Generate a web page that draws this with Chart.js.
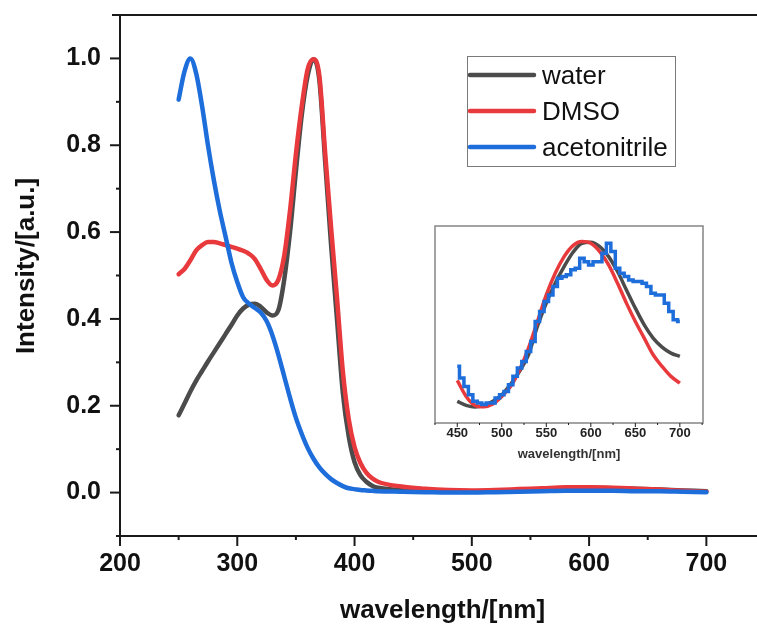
<!DOCTYPE html>
<html>
<head>
<meta charset="utf-8">
<script src="https://cdn.jsdelivr.net/npm/chart.js@4.4.0/dist/chart.umd.min.js"></script>
<style>
  html, body { margin: 0; padding: 0; background: #fff; overflow: hidden; }
  #wrap { position: relative; width: 757px; height: 626px; overflow: hidden; }
  #main { position: absolute; left: 0; top: 0; }
  #inset { position: absolute; left: 400px; top: 215px; }
</style>
</head>
<body>
<div id="wrap">
  <canvas id="main" width="780" height="626"></canvas>
  <canvas id="inset" width="340" height="255"></canvas>
</div>
<script>
// normalised emission spectra in three solvents
var wavelength = [250,255,260,265,270,275,280,285,290,295,300,305,310,315,320,325,330,335,340,345,
                  350,355,360,365,370,375,380,385,390,395,400,405,410,415,420,
                  440,460,480,500,520,540,560,580,600,620,640,660,680,700];
var water = [0.178,0.205,0.233,0.258,0.28,0.302,0.323,0.344,0.365,0.386,0.408,0.424,0.433,0.435,0.428,0.415,0.408,0.42,0.49,0.60,
             0.74,0.87,0.96,0.998,0.95,0.76,0.57,0.40,0.23,0.13,0.07,0.04,0.025,0.016,0.011,
             0.006,0.004,0.003,0.002,0.003,0.005,0.008,0.010,0.011,0.010,0.009,0.007,0.005,0.003];
var dmso = [0.503,0.515,0.535,0.558,0.57,0.577,0.577,0.574,0.57,0.566,0.562,0.557,0.55,0.538,0.515,0.49,0.477,0.49,0.545,0.65,
            0.78,0.89,0.975,0.998,0.96,0.78,0.61,0.45,0.28,0.17,0.105,0.068,0.046,0.033,0.025,
            0.014,0.009,0.006,0.005,0.006,0.008,0.010,0.012,0.012,0.011,0.009,0.007,0.004,0.002];
var acetonitrile = [0.905,0.97,1.0,0.965,0.89,0.80,0.72,0.65,0.59,0.53,0.485,0.45,0.435,0.425,0.415,0.395,0.362,0.318,0.268,0.218,
                    0.172,0.135,0.103,0.078,0.058,0.043,0.031,0.022,0.015,0.01,0.008,0.006,0.005,0.004,0.003,
                    0.002,0.001,0.0,0.0,0.001,0.002,0.003,0.004,0.004,0.004,0.003,0.003,0.002,0.001];

// long-wavelength band, intensity x 10^-3
var insetWavelength = [450,460,470,480,490,500,510,520,530,540,550,560,570,580,590,600,610,620,630,640,650,660,670,680,690,700];
var insetWater = [0.53,0.24,0.12,0.24,0.53,1.0,1.77,2.68,3.87,5.9,7.58,9.01,10.2,11.23,11.88,11.95,11.64,10.92,9.85,8.53,7.22,6.02,5.07,4.42,3.99,3.75];
var insetDmso = [2.03,0.88,0.24,0.14,0.33,0.88,1.6,2.8,4.35,6.26,8.17,9.73,10.92,11.71,12.0,11.88,11.28,10.32,9.01,7.58,6.26,5.07,3.87,3.04,2.32,1.84];
var insetAcnWavelength = [450,455,460,465,470,475,480,485,490,495,500,505,510,515,520,525,530,535,540,545,
                          550,555,560,565,570,575,580,585,590,595,600,605,610,615,620,625,630,635,640,645,
                          650,655,660,665,670,675,680,685,690,695,700];
var insetAcetonitrile = [3.04,2.2,1.6,1.0,0.53,0.41,0.29,0.41,0.41,0.76,1.0,1.24,1.72,2.32,2.92,3.39,4.11,4.83,6.26,6.98,
                         7.7,8.17,8.77,9.37,9.49,9.61,9.97,10.09,10.8,10.56,10.32,10.56,10.56,11.16,11.88,11.28,10.09,9.73,9.49,9.25,
                         9.13,9.13,9.01,8.77,8.29,8.17,8.17,7.58,6.98,6.38,6.26];

var xTickLabels = [200, 300, 400, 500, 600, 700];
var yTickLabels = ['0.0', '0.2', '0.4', '0.6', '0.8', '1.0'];
var insetTickLabels = [450, 500, 550, 600, 650, 700];

var colors = { water: '#4b4b4b', dmso: '#e8393c', acetonitrile: '#1d6ddb' };
var FONT = '"Liberation Sans", Arial, sans-serif';

function pairs(xs, ys) {
  return xs.map(function (x, i) { return { x: x, y: ys[i] }; });
}

// tick marks drawn outward, long for labelled values, short in between
function drawTicks(ctx, chart, major, minor, width) {
  var a = chart.chartArea;
  ctx.save();
  ctx.strokeStyle = '#1a1a1a';
  ctx.lineWidth = width;
  chart.scales.x.ticks.forEach(function (t) {
    var px = chart.scales.x.getPixelForValue(t.value);
    var len = t.label !== '' ? major : minor;
    ctx.beginPath();
    ctx.moveTo(px, a.bottom);
    ctx.lineTo(px, a.bottom + len);
    ctx.stroke();
  });
  if (chart.scales.y.options.display) {
    chart.scales.y.ticks.forEach(function (t) {
      var py = chart.scales.y.getPixelForValue(t.value);
      var len = t.label !== '' ? major : minor;
      ctx.beginPath();
      ctx.moveTo(a.left - len, py);
      ctx.lineTo(a.left, py);
      ctx.stroke();
    });
  }
  ctx.restore();
}

var mainDecor = {
  id: 'mainDecor',
  afterDraw: function (chart) {
    var ctx = chart.ctx, a = chart.chartArea;
    drawTicks(ctx, chart, 10, 4, 2);

    // top frame line
    ctx.save();
    ctx.strokeStyle = '#1a1a1a';
    ctx.lineWidth = 2;
    ctx.beginPath();
    ctx.moveTo(a.left - 8, a.top);
    ctx.lineTo(chart.width, a.top);
    ctx.stroke();

    // y axis title
    ctx.fillStyle = '#111';
    ctx.font = 'bold 26px ' + FONT;
    ctx.textAlign = 'center';
    ctx.textBaseline = 'middle';
    ctx.translate(27, 266);
    ctx.rotate(-Math.PI / 2);
    ctx.fillText('Intensity/[a.u.]', 0, 0);
    ctx.restore();

    // legend box
    ctx.save();
    ctx.strokeStyle = '#7a7a7a';
    ctx.lineWidth = 1;
    ctx.strokeRect(467.5, 56.5, 208, 110);
    var rows = [75, 111, 147];
    ctx.font = '26px ' + FONT;
    ctx.textBaseline = 'middle';
    ctx.textAlign = 'left';
    chart.data.datasets.forEach(function (ds, i) {
      ctx.strokeStyle = ds.borderColor;
      ctx.lineWidth = 4.5;
      ctx.lineCap = 'round';
      ctx.beginPath();
      ctx.moveTo(470, rows[i]);
      ctx.lineTo(534, rows[i]);
      ctx.stroke();
      ctx.fillStyle = '#111';
      ctx.fillText(ds.label, 542, rows[i] + 2);
    });
    ctx.restore();
  }
};

new Chart(document.getElementById('main'), {
  type: 'line',
  data: {
    datasets: [
      { label: 'water', data: pairs(wavelength, water), borderColor: colors.water, order: 3 },
      { label: 'DMSO', data: pairs(wavelength, dmso), borderColor: colors.dmso, order: 2 },
      { label: 'acetonitrile', data: pairs(wavelength, acetonitrile), borderColor: colors.acetonitrile, order: 1 }
    ]
  },
  options: {
    responsive: false,
    animation: false,
    elements: {
      line: { borderWidth: 4.5, cubicInterpolationMode: 'monotone', borderCapStyle: 'round' },
      point: { radius: 0 }
    },
    layout: { padding: { top: 15, right: 15, left: 0, bottom: 0 } },
    plugins: { legend: { display: false }, tooltip: { enabled: false } },
    scales: {
      x: {
        type: 'linear', min: 200, max: 750,
        afterFit: function (s) { s.height = 90; s.paddingLeft = 0; s.paddingRight = 0; },
        border: { display: true, color: '#1a1a1a', width: 2 },
        grid: { display: false, drawTicks: false },
        ticks: {
          stepSize: 50, autoSkip: false, maxRotation: 0, padding: 13, color: '#111',
          font: { family: FONT, size: 25, weight: 'bold' },
          callback: function (v) { return xTickLabels.indexOf(v) >= 0 ? String(v) : ''; }
        },
        title: {
          display: true, text: 'wavelength/[nm]', color: '#111',
          font: { family: FONT, size: 26, weight: 'bold' }, padding: { top: 0, bottom: 0 }
        }
      },
      y: {
        type: 'linear', min: -0.1, max: 1.1,
        afterFit: function (s) { s.width = 120; s.paddingTop = 0; s.paddingBottom = 0; },
        border: { display: true, color: '#1a1a1a', width: 2 },
        grid: { display: false, drawTicks: false },
        ticks: {
          stepSize: 0.1, autoSkip: false, padding: 19, color: '#111',
          font: { family: FONT, size: 25, weight: 'bold' },
          callback: function (v) { var s = v.toFixed(1); return yTickLabels.indexOf(s) >= 0 ? s : ''; }
        }
      }
    }
  },
  plugins: [mainDecor]
});

var insetDecor = {
  id: 'insetDecor',
  afterDraw: function (chart) {
    var ctx = chart.ctx, a = chart.chartArea;
    ctx.save();
    ctx.strokeStyle = '#858585';
    ctx.lineWidth = 1.5;
    ctx.strokeRect(a.left, a.top, a.right - a.left, a.bottom - a.top);
    ctx.restore();
    drawTicks(ctx, chart, 4, 2, 1);
  }
};

new Chart(document.getElementById('inset'), {
  type: 'line',
  data: {
    datasets: [
      { label: 'water', data: pairs(insetWavelength, insetWater), borderColor: colors.water, order: 3 },
      { label: 'DMSO', data: pairs(insetWavelength, insetDmso), borderColor: colors.dmso, order: 2 },
      { label: 'acetonitrile', data: pairs(insetAcnWavelength, insetAcetonitrile), borderColor: colors.acetonitrile,
        stepped: 'middle', cubicInterpolationMode: 'default', order: 1 }
    ]
  },
  options: {
    responsive: false,
    animation: false,
    elements: {
      line: { borderWidth: 3.5, cubicInterpolationMode: 'monotone' },
      point: { radius: 0 }
    },
    layout: { padding: { top: 11, right: 37, left: 35, bottom: 0 } },
    plugins: { legend: { display: false }, tooltip: { enabled: false } },
    scales: {
      x: {
        type: 'linear', min: 425, max: 726,
        afterFit: function (s) { s.height = 47; s.paddingLeft = 0; s.paddingRight = 0; },
        border: { display: false },
        grid: { display: false, drawTicks: false },
        ticks: {
          stepSize: 25, includeBounds: false, autoSkip: false, maxRotation: 0, padding: 3, color: '#222',
          font: { family: FONT, size: 13, weight: 'bold' },
          callback: function (v) { return insetTickLabels.indexOf(v) >= 0 ? String(v) : ''; }
        },
        title: {
          display: true, text: 'wavelength/[nm]', color: '#333',
          font: { family: FONT, size: 13, weight: 'bold' }, padding: { top: 0, bottom: 8 }
        }
      },
      y: { type: 'linear', min: -1.03, max: 13.12, display: false }
    }
  },
  plugins: [insetDecor]
});
</script>
</body>
</html>
